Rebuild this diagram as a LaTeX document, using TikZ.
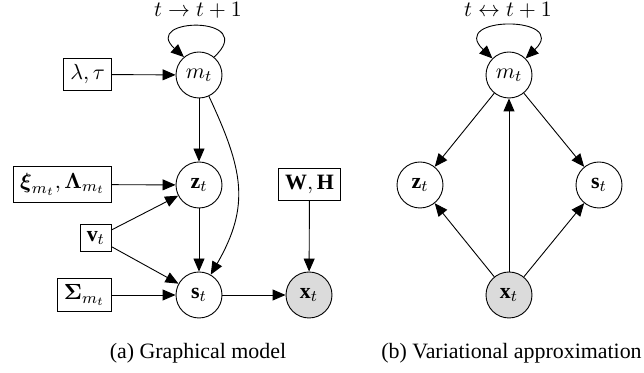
\documentclass[tikz,border=0pt]{standalone}
\usepackage{amsmath}
\usepackage{fontspec}
\setmainfont{Liberation Serif}
\usetikzlibrary{arrows.meta}
\begin{document}
\begin{tikzpicture}[x=0.5pt,y=-0.5pt,
  every node/.style={font=\fontsize{10.95}{13}\selectfont},
  var/.style={circle, draw, minimum size=23pt, inner sep=0pt, line width=0.45pt},
  obs/.style={var, fill=gray!28},
  param/.style={rectangle, draw, line width=0.45pt, anchor=east},
  arr/.style={-{Triangle[length=6.5pt,width=5.5pt]}, line width=0.45pt},
  darr/.style={{Triangle[length=6.5pt,width=5.5pt]}-{Triangle[length=6.5pt,width=5.5pt]}, line width=0.45pt},
  lbl/.style={anchor=base, inner sep=0pt}]
\useasboundingbox (0,0) rectangle (644,373);
% (a) Graphical model
\node[var] (m1) at (199,75) {$m_t$};
\node[var] (z1) at (199,185) {$\mathbf{z}_t$};
\node[var] (s1) at (199,295) {$\mathbf{s}_t$};
\node[obs] (x1) at (309,295) {$\mathbf{x}_t$};
\node[param] (lt) at (112,74.5) {$\lambda,\tau$};
\node[param] (xl) at (112,184.5) {$\boldsymbol{\xi}_{m_t},\boldsymbol{\Lambda}_{m_t}$};
\node[param] (v) at (112,238) {$\mathbf{v}_t$};
\node[param] (sg) at (112,295) {$\boldsymbol{\Sigma}_{m_t}$};
\node[param, anchor=center] (wh) at (309.5,184.5) {$\mathbf{W},\mathbf{H}$};
\node[lbl] (la) at (198,17) {$t\rightarrow t+1$};
\node[lbl] (ca) at (198,359) {(a) Graphical model};
\draw[arr] (m1.50) .. controls +(46,-42) and +(-44,-40) .. (m1.130);
\draw[arr] (lt) -- (m1);
\draw[arr] (m1) -- (z1);
\draw[arr] (xl) -- (z1);
\draw[arr] (v) -- (z1);
\draw[arr] (v) -- (s1);
\draw[arr] (z1) -- (s1);
\draw[arr] (sg) -- (s1);
\draw[arr] (s1) -- (x1);
\draw[arr] (wh) -- (x1);
\draw[arr] (m1) to[out=-65,in=60,looseness=1.15] (s1);
% (b) Variational approximation
\node[var] (m2) at (509,75) {$m_t$};
\node[var] (z2) at (420,185) {$\mathbf{z}_t$};
\node[var] (s2) at (599,185) {$\mathbf{s}_t$};
\node[obs] (x2) at (509,295) {$\mathbf{x}_t$};
\node[lbl] (lb) at (508,17) {$t\leftrightarrow t+1$};
\node[lbl] (cb) at (511.5,359) {(b) Variational approximation};
\draw[darr] (m2.135) .. controls +(-45,-43) and +(45,-43) .. (m2.45);
\draw[arr] (m2) -- (z2);
\draw[arr] (m2) -- (s2);
\draw[arr] (x2) -- (m2);
\draw[arr] (x2) -- (z2);
\draw[arr] (x2) -- (s2);
\end{tikzpicture}
\end{document}
